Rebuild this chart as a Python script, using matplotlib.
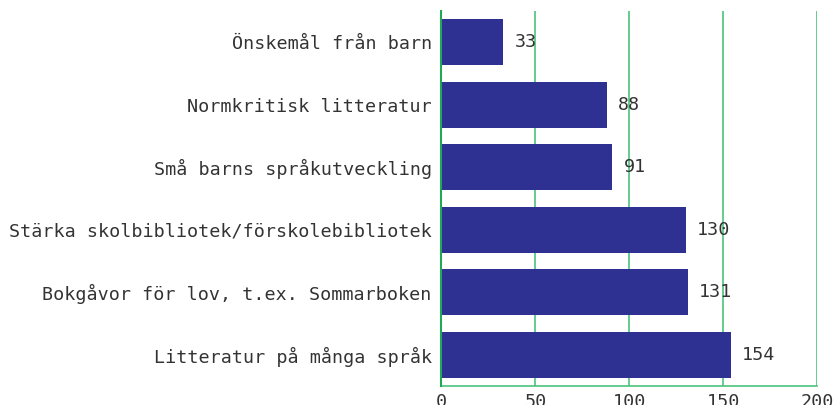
import matplotlib.pyplot as plt
import numpy as np

categories = [
    "Litteratur på många språk",
    "Bokgåvor för lov, t.ex. Sommarboken",
    "Stärka skolbibliotek/förskolebibliotek",
    "Små barns språkutveckling",
    "Normkritisk litteratur",
    "Önskemål från barn",
]
values = [154, 131, 130, 91, 88, 33]
xticks = [0, 50, 100, 150, 200]

plt.rcParams['font.family'] = ['DejaVu Sans Mono']
txt_color = '#333333'
grid_color = '#4cc27a'

fig = plt.figure(figsize=(8.33, 4.05), dpi=100)
ax = fig.add_axes([0.530, 0.047, 0.451, 0.926])

y = np.arange(len(categories))
ax.barh(y, values, height=0.74, color='#2e3192', zorder=3)
for yi, v in zip(y, values):
    ax.text(v + 6, yi, str(v), va='center', ha='left', fontsize=13.2, color=txt_color, zorder=4)

ax.set_ylim(-0.5, len(categories) - 0.5)
ax.set_xlim(0, 200)
ax.set_xticks(xticks)
ax.set_xticklabels([str(t) for t in xticks])
ax.set_yticks(y)
ax.set_yticklabels(categories)
ax.tick_params(axis='both', length=0, labelsize=13.2, labelcolor=txt_color)
ax.tick_params(axis='y', pad=7)
ax.tick_params(axis='x', pad=5)

ax.grid(axis='x', color=grid_color, linewidth=1.2, zorder=0)
for s in ['top', 'right', 'left']:
    ax.spines[s].set_visible(False)
ax.spines['bottom'].set_color(grid_color)
ax.spines['bottom'].set_linewidth(1.2)
ax.axvline(0, color='#1fa855', linewidth=1.5, zorder=5, clip_on=False)

fig.savefig('out.png', dpi=100)
